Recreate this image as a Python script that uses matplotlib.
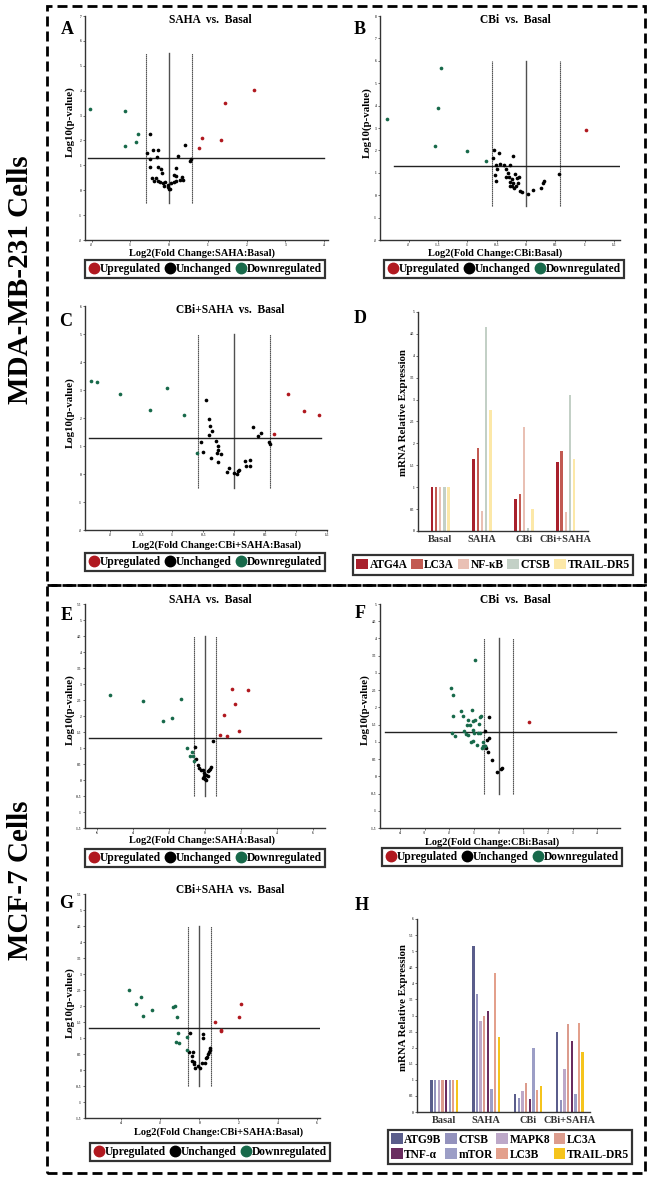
"""
Volcano plots and qPCR bar charts for MDA-MB-231 and MCF-7 cells.
"""

import matplotlib
matplotlib.use("Agg")
import matplotlib.pyplot as plt
from matplotlib.lines import Line2D
from matplotlib.patches import Patch, Rectangle
import numpy as np

plt.rcParams["font.family"] = ["Liberation Serif", "DejaVu Serif"]
plt.rcParams["font.weight"] = "bold"
plt.rcParams["axes.labelweight"] = "bold"

# ---------------------------------------------------------------------------
# Data
# ---------------------------------------------------------------------------
# A: MDA-MB-231, SAHA vs Basal
A_UP_X = [2.2, 1.45, 0.86, 1.35, 0.78]
A_UP_Y = [4.04, 3.52, 2.1, 2.03, 1.69]
A_DOWN_X = [-2.03, -1.14, -0.81, -0.86, -1.14]
A_DOWN_Y = [3.28, 3.2, 2.24, 1.92, 1.77]
A_MID_X = [-0.49, -0.56, -0.42, -0.28, -0.32, -0.5, -0.49, -0.28, -0.2, -0.18,
           0.41, 0.23, 0.56, 0.54, 0.17, 0.12, 0.17, 0.33, 0.36, 0.28,
           -0.43, -0.4, -0.33, -0.28, -0.24, -0.17, -0.11, -0.13, -0.04, 0.0,
           0.03, 0.06, 0.13, 0.17, -0.03]
A_MID_Y = [2.24, 1.48, 1.61, 1.61, 1.35, 1.24, 0.95, 0.92, 0.87, 0.69,
           1.81, 1.39, 1.25, 1.17, 0.89, 0.61, 0.59, 0.53, 0.43, 0.43,
           0.48, 0.36, 0.48, 0.36, 0.32, 0.28, 0.32, 0.16, 0.12, 0.05,
           0.03, 0.31, 0.33, 0.39, 0.21]

# B: MDA-MB-231, CBi vs Basal
B_UP_X = [1.02]
B_UP_Y = [2.93]
B_DOWN_X = [-2.375, -1.45, -1.5, -1.56, -1.01, -0.68]
B_DOWN_Y = [3.41, 5.67, 3.88, 2.19, 1.97, 1.53]
B_MID_X = [-0.55, -0.57, -0.47, -0.51, -0.45, -0.49, -0.53, -0.52, -0.22, -0.37,
           -0.27, -0.34, -0.31, -0.35, -0.3, -0.24, -0.19, -0.16, -0.12, -0.27,
           -0.22, -0.24, -0.18, -0.14, -0.28, -0.2, -0.1, -0.07, 0.03, 0.11,
           0.26, 0.28, 0.31, 0.56]
B_MID_Y = [2.01, 1.66, 1.87, 1.35, 1.41, 1.16, 0.92, 0.64, 1.75, 1.35,
           1.35, 1.16, 1.01, 0.83, 0.83, 0.71, 0.93, 0.79, 0.83, 0.59,
           0.53, 0.41, 0.41, 0.56, 0.39, 0.31, 0.19, 0.15, 0.07, 0.24,
           0.33, 0.56, 0.64, 0.95]

# C: MDA-MB-231, CBi+SAHA vs Basal
C_UP_X = [0.87, 1.13, 1.37, 0.65]
C_UP_Y = [2.87, 2.25, 2.1, 1.44]
C_DOWN_X = [-2.31, -2.22, -1.84, -1.36, -1.08, -0.81, -0.6]
C_DOWN_Y = [3.33, 3.3, 2.85, 2.3, 3.07, 2.1, 0.76]
C_MID_X = [-0.45, -0.41, -0.39, -0.35, -0.4, -0.54, -0.51, -0.38, -0.29, -0.26,
           -0.26, -0.27, -0.22, -0.26, -0.11, -0.08, -0.01, 0.05, 0.06, 0.08,
           0.18, 0.19, 0.25, 0.26, 0.3, 0.39, 0.43, 0.57, 0.58]
C_MID_Y = [2.64, 1.95, 1.7, 1.54, 1.38, 1.15, 0.79, 0.57, 1.17, 1.0,
           0.87, 0.75, 0.73, 0.43, 0.07, 0.2, 0.04, 0.01, 0.12, 0.14,
           0.45, 0.3, 0.3, 0.51, 1.67, 1.37, 1.45, 1.14, 1.06]

# D: MDA-MB-231 qPCR
D_GROUPS = ["Basal", "SAHA", "CBi", "CBi+SAHA"]
D_GENES = ["ATG4A", "LC3A", "NF-\u03baB", "CTSB", "TRAIL-DR5"]
D_ATG4A = [1.0, 1.65, 0.74, 1.58]
D_LC3A = [1.0, 1.9, 0.85, 1.83]
D_NFKB = [1.0, 0.46, 2.38, 0.43]
D_CTSB = [1.0, 4.65, 0.07, 3.1]
D_TRAIL = [1.0, 2.76, 0.5, 1.65]
D_COLORS = ["#a8202c", "#c25a52", "#e9c0b4", "#c3d0c6", "#fce8a8"]

# E: MCF-7, SAHA vs Basal
E_UP_X = [1.5, 2.37, 1.67, 1.07, 1.87, 0.83, 1.22]
E_UP_Y = [2.84, 2.8, 2.39, 2.04, 1.52, 1.41, 1.36]
E_DOWN_X = [-5.3, -3.44, -1.31, -2.33, -1.85, -1.0, -0.72, -0.85, -0.67, -0.61]
E_DOWN_Y = [2.65, 2.47, 2.54, 1.85, 1.93, 0.99, 0.89, 0.74, 0.76, 0.6]
E_MID_X = [-0.57, -0.48, 0.43, -0.37, -0.33, -0.22, -0.13, -0.06, -0.04, 0.0,
           0.04, 0.06, 0.15, 0.24, 0.33, 0.3, 0.15, -0.09]
E_MID_Y = [1.02, 0.66, 1.21, 0.47, 0.37, 0.32, 0.3, 0.22, 0.11, 0.03,
           0.01, 0.17, 0.27, 0.32, 0.4, 0.34, 0.13, 0.07]

# F: MCF-7, CBi vs Basal
F_UP_X = [1.24]
F_UP_Y = [1.57]
F_DOWN_X = [-0.97, -1.93, -1.84, -1.84, -1.53, -1.46, -1.07, -1.3, -1.26, -1.16,
            -1.03, -0.96, -0.8, -0.76, -0.72, -1.41, -1.32, -1.23, -1.03, -1.0,
            -0.85, -0.76, -1.88, -1.77, -1.12, -1.03, -0.89, -0.65, -0.62, -0.68,
            -0.57]
F_DOWN_Y = [3.38, 2.57, 2.37, 1.76, 1.89, 1.74, 1.91, 1.48, 1.62, 1.49,
            1.61, 1.62, 1.51, 1.72, 1.74, 1.32, 1.23, 1.19, 1.35, 1.26,
            1.26, 1.26, 1.25, 1.16, 1.0, 1.02, 0.91, 0.99, 0.87, 0.82,
            0.89]
F_MID_X = [-0.39, -0.55, -0.49, -0.38, -0.55, -0.53, -0.43, -0.26, -0.08, 0.09, 0.15]
F_MID_Y = [1.73, 1.32, 1.04, 1.1, 0.89, 0.83, 0.7, 0.48, 0.13, 0.21, 0.23]

# G: MCF-7, CBi+SAHA vs Basal
G_UP_X = [2.13, 2.01, 0.82, 1.11, 1.11]
G_UP_Y = [2.07, 1.67, 1.51, 1.26, 1.21]
G_DOWN_X = [-3.6, -3.24, -2.98, -2.9, -2.42, -1.33, -1.23, -1.16, -1.11, -1.19,
            -1.06, -0.65, -0.61]
G_DOWN_Y = [2.49, 2.06, 2.27, 1.68, 1.88, 1.98, 2.01, 1.65, 1.16, 0.87,
            0.84, 1.03, 0.64]
G_MID_X = [-0.48, -0.51, -0.32, -0.36, -0.39, -0.29, -0.2, -0.05, 0.03, 0.19,
           0.17, 0.15, 0.27, 0.32, 0.37, 0.43, 0.48, 0.55, 0.55, -0.29]
G_MID_Y = [1.16, 0.56, 0.56, 0.44, 0.27, 0.19, 0.07, 0.12, 0.05, 1.14,
           1.0, 0.22, 0.23, 0.36, 0.41, 0.49, 0.56, 0.68, 0.62, 0.25]

# H: MCF-7 qPCR
H_GROUPS = ["Basal", "SAHA", "CBi", "CBi+SAHA"]
H_GENES = ["ATG9B", "CTSB", "MAPK8", "LC3A", "TNF-\u03b1", "mTOR", "LC3B", "TRAIL-DR5"]
H_ATG9B = [1.0, 5.16, 0.57, 2.5]
H_CTSB = [1.0, 3.67, 0.45, 0.38]
H_MAPK8 = [1.0, 2.82, 0.65, 1.33]
H_LC3A = [1.0, 2.98, 0.91, 2.74]
H_TNFA = [1.0, 3.14, 0.41, 2.2]
H_MTOR = [1.0, 0.7, 2.0, 0.57]
H_LC3B = [1.0, 4.33, 0.68, 2.78]
H_TRAIL = [1.0, 2.33, 0.82, 1.86]
H_COLORS = ["#5a5d8b", "#9392bd", "#bda8c8", "#dc9c8d",
            "#6a2d60", "#9c9ec6", "#e3a08c", "#f5c41c"]

UP_COLOR = "#b0181f"
DOWN_COLOR = "#17694a"

W, H = 649, 1179


def fx(x):
    return x / W


def fy(y):
    return 1 - y / H


def add_axes(fig, x0, y0, x1, y1):
    return fig.add_axes([fx(x0), fy(y1), fx(x1) - fx(x0), fy(y0) - fy(y1)])


def style_axes(ax):
    for side in ["top", "right"]:
        ax.spines[side].set_visible(False)
    for side in ["left", "bottom"]:
        ax.spines[side].set_linewidth(1.0)
        ax.spines[side].set_color("#333333")
    ax.tick_params(labelsize=2.5, length=1.5, width=0.5, pad=1, colors="#333333")


def volcano(ax, up, mid, down, xlim, ylim, xticks, yticks, vtop, hx):
    style_axes(ax)
    ax.set_xlim(*xlim)
    ax.set_ylim(*ylim)
    ax.set_xticks(xticks)
    ax.set_yticks(yticks)
    ax.set_xticklabels([f"{t:g}" for t in xticks])
    ax.set_yticklabels([f"{t:g}" for t in yticks])
    ax.plot([0, 0], [-0.5, vtop], color="#505050", lw=1.0, zorder=1)
    for v in (-0.585, 0.585):
        ax.plot([v, v], [-0.5, vtop], color="#333333", lw=0.8,
                ls=(0, (1.2, 0.6)), zorder=1)
    ax.plot(hx, [1.3, 1.3], color="#222222", lw=1.0, zorder=1)
    ax.scatter(mid[0], mid[1], s=7, color="black", zorder=3, linewidths=0)
    ax.scatter(up[0], up[1], s=7, color=UP_COLOR, zorder=3, linewidths=0)
    ax.scatter(down[0], down[1], s=7, color=DOWN_COLOR, zorder=3, linewidths=0)


def volcano_legend(fig, cx, cy):
    handles = [Line2D([], [], marker="o", ls="none", markersize=7.5,
                      markerfacecolor=c, markeredgecolor=c)
               for c in (UP_COLOR, "black", DOWN_COLOR)]
    leg = fig.legend(handles, ["Upregulated", "Unchanged", "Downregulated"],
                     loc="center", bbox_to_anchor=(fx(cx), fy(cy)), ncol=3,
                     fontsize=8.3, frameon=True, fancybox=False, edgecolor="black",
                     handletextpad=0.05, columnspacing=0.25, borderpad=0.25,
                     handlelength=1.0, borderaxespad=0)
    leg.get_frame().set_linewidth(1.6)


def bars(ax, values, colors, step, width, ymax):
    style_axes(ax)
    x = np.arange(len(values[0]))
    n = len(values)
    for i, (vals, c) in enumerate(zip(values, colors)):
        ax.bar(x + (i - (n - 1) / 2) * step, vals, width=width, color=c, zorder=2)
    ax.set_ylim(0, ymax)
    ax.set_yticks(np.arange(0, ymax + 0.01, 0.5))
    ax.set_yticklabels([f"{t:g}" for t in np.arange(0, ymax + 0.01, 0.5)])
    ax.set_xticks(x)
    ax.tick_params(axis="x", length=0, labelsize=7.5, pad=3)


def bar_legend(fig, labels, colors, cx, cy, ncol, order=None):
    handles = [Patch(facecolor=c, edgecolor="none") for c in colors]
    if order is not None:
        handles = [handles[i] for i in order]
        labels = [labels[i] for i in order]
    leg = fig.legend(handles, labels, loc="center", bbox_to_anchor=(fx(cx), fy(cy)),
                     ncol=ncol, fontsize=8.3, frameon=True, fancybox=False,
                     edgecolor="black", handletextpad=0.15, columnspacing=0.3,
                     borderpad=0.3, handlelength=1.0, handleheight=1.0,
                     labelspacing=0.25, borderaxespad=0)
    leg.get_frame().set_linewidth(1.6)


fig = plt.figure(figsize=(W / 100, H / 100), dpi=100)

# outer dashed boxes
for (x0, y0, x1, y1) in [(47, 6, 645, 585), (47, 585, 645, 1173)]:
    fig.add_artist(Rectangle((fx(x0), fy(y1)), fx(x1) - fx(x0), fy(y0) - fy(y1),
                             transform=fig.transFigure, fill=False, lw=2.0,
                             ls=(0, (3.6, 1.8)), edgecolor="black"))

fig.text(fx(21), fy(280), "MDA-MB-231 Cells", rotation=90, ha="center", va="center",
         fontsize=21, fontweight="bold")
fig.text(fx(21), fy(880), "MCF-7 Cells", rotation=90, ha="center", va="center",
         fontsize=21, fontweight="bold")

# --- A
ax = add_axes(fig, 85, 16, 328, 240)
volcano(ax, (A_UP_X, A_UP_Y), (A_MID_X, A_MID_Y), (A_DOWN_X, A_DOWN_Y),
        (-2.17, 4.1), (-2, 7), np.arange(-2, 5), np.arange(-2, 8), 5.5, [-2.08, 4.0])
# --- B
ax = add_axes(fig, 380, 16, 620, 240)
volcano(ax, (B_UP_X, B_UP_Y), (B_MID_X, B_MID_Y), (B_DOWN_X, B_DOWN_Y),
        (-2.49, 1.6), (-2, 8), np.arange(-2, 1.6, 0.5), np.arange(-2, 9), 6.0, [-2.25, 1.59])
# --- C
ax = add_axes(fig, 85, 306, 327, 530)
volcano(ax, (C_UP_X, C_UP_Y), (C_MID_X, C_MID_Y), (C_DOWN_X, C_DOWN_Y),
        (-2.41, 1.45), (-2, 6), np.arange(-2, 1.6, 0.5), np.arange(-2, 7), 5.0, [-2.34, 1.4])
# --- E
ax = add_axes(fig, 85, 604, 325, 828)
volcano(ax, (E_UP_X, E_UP_Y), (E_MID_X, E_MID_Y), (E_DOWN_X, E_DOWN_Y),
        (-6.67, 6.67), (-1.5, 5.5), np.arange(-6, 7, 2), np.arange(-1.5, 5.6, 0.5),
        4.5, [-6.43, 6.43])
# --- F
ax = add_axes(fig, 380, 604, 620, 828)
volcano(ax, (F_UP_X, F_UP_Y), (F_MID_X, F_MID_Y), (F_DOWN_X, F_DOWN_Y),
        (-4.81, 4.92), (-1.5, 5), np.arange(-4, 5), np.arange(-1.5, 5.1, 0.5),
        4.0, [-4.6, 4.76])
# --- G
ax = add_axes(fig, 85, 894, 320, 1118)
volcano(ax, (G_UP_X, G_UP_Y), (G_MID_X, G_MID_Y), (G_DOWN_X, G_DOWN_Y),
        (-5.84, 6.17), (-1.5, 5.5), np.arange(-4, 7, 2), np.arange(-1.5, 5.6, 0.5),
        4.5, [-5.62, 6.2])

# --- D
ax = add_axes(fig, 418, 312, 588, 531)
bars(ax, [D_ATG4A, D_LC3A, D_NFKB, D_CTSB, D_TRAIL], D_COLORS, 0.101, 0.055, 5)
ax.set_xlim(-0.53, 3.53)
ax.set_xticklabels(D_GROUPS)
# --- H
ax = add_axes(fig, 417, 919, 590, 1112)
bars(ax, [H_ATG9B, H_CTSB, H_MAPK8, H_LC3A, H_TNFA, H_MTOR, H_LC3B, H_TRAIL],
     H_COLORS, 0.087, 0.055, 6)
ax.set_xlim(-0.65, 3.48)
ax.set_xticklabels(H_GROUPS)

# titles, panel letters, axis labels
titles = [(210, 20, "SAHA  vs.  Basal"), (515, 20, "CBi  vs.  Basal"),
          (230, 310, "CBi+SAHA  vs.  Basal"), (210, 600, "SAHA  vs.  Basal"),
          (515, 600, "CBi  vs.  Basal"), (230, 890, "CBi+SAHA  vs.  Basal")]
for x, y, t in titles:
    fig.text(fx(x), fy(y), t, ha="center", va="center", fontsize=8.3, fontweight="bold")

letters = [(67, 30, "A"), (360, 30, "B"), (66, 321, "C"), (360, 319, "D"),
           (67, 615, "E"), (360, 613, "F"), (66, 903, "G"), (362, 905, "H")]
for x, y, t in letters:
    fig.text(fx(x), fy(y), t, ha="center", va="center", fontsize=13, fontweight="bold")

xlabels = [(202, 253, "Log2(Fold Change:SAHA:Basal)"), (495, 253, "Log2(Fold Change:CBi:Basal)"),
           (217, 545, "Log2(Fold Change:CBi+SAHA:Basal)"), (202, 840, "Log2(Fold Change:SAHA:Basal)"),
           (492, 842, "Log2(Fold Change:CBi:Basal)"), (219, 1132, "Log2(Fold Change:CBi+SAHA:Basal)")]
for x, y, t in xlabels:
    fig.text(fx(x), fy(y), t, ha="center", va="center", fontsize=7.5, fontweight="bold")

ylabels = [(70, 122, "Log10(p-value)"), (367, 123, "Log10(p-value)"),
           (70, 413, "Log10(p-value)"), (403, 413, "mRNA Relative Expression"),
           (70, 710, "Log10(p-value)"), (365, 710, "Log10(p-value)"),
           (70, 1003, "Log10(p-value)"), (403, 1008, "mRNA Relative Expression")]
for x, y, t in ylabels:
    fig.text(fx(x), fy(y), t, ha="center", va="center", rotation=90,
             fontsize=7.8, fontweight="bold")

# legends
for cx, cy in [(205, 269), (504, 269), (205, 562), (205, 858), (502, 857), (210, 1152)]:
    volcano_legend(fig, cx, cy)
bar_legend(fig, D_GENES, D_COLORS, 493, 565, 5)
bar_legend(fig, H_GENES, H_COLORS, 510, 1147, 4, order=[0, 4, 1, 5, 2, 6, 3, 7])

fig.savefig("out.png", dpi=100)
